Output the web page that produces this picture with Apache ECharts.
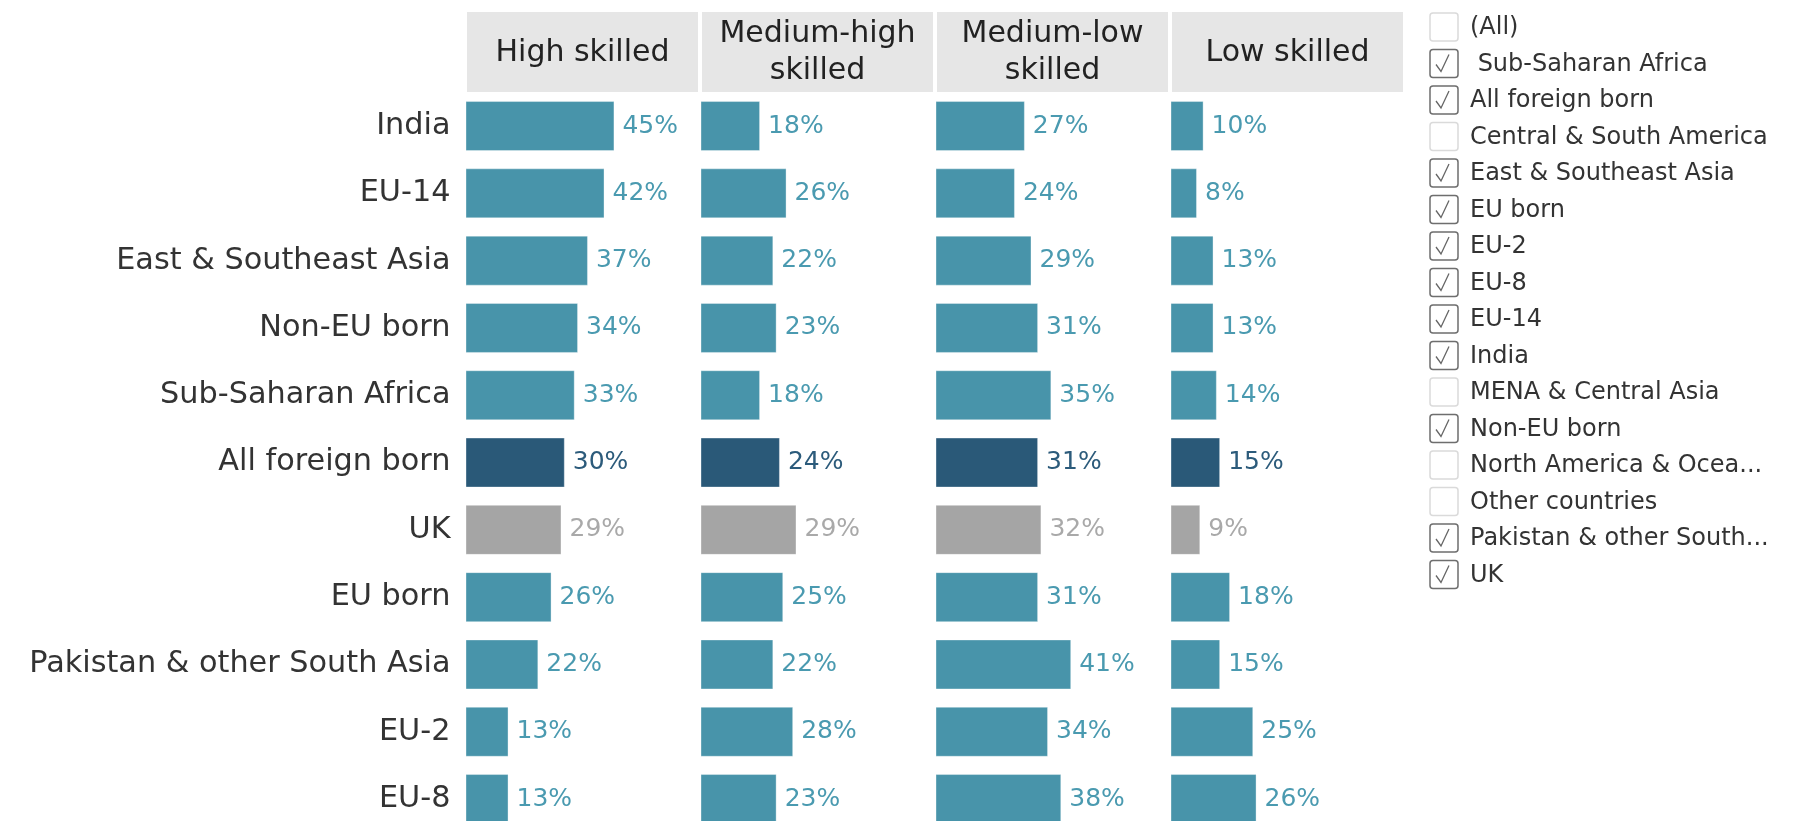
<!DOCTYPE html>
<html>
<head>
<meta charset="utf-8">
<script src="https://cdn.jsdelivr.net/npm/echarts@6/dist/echarts.min.js"></script>
<style>
  html, body { margin: 0; padding: 0; background: #ffffff; }
  #chart { width: 1797px; height: 821px; }
</style>
</head>
<body>
<div id="chart"></div>
<script>
// Share of workers by skill level of occupation, by country of birth
const categories = ['India', 'EU-14', 'East & Southeast Asia', 'Non-EU born', 'Sub-Saharan Africa',
  'All foreign born', 'UK', 'EU born', 'Pakistan & other South Asia', 'EU-2', 'EU-8'];
const panelTitles = ['High skilled', 'Medium-high\nskilled', 'Medium-low\nskilled', 'Low skilled'];
const highSkilled = [45, 42, 37, 34, 33, 30, 29, 26, 22, 13, 13];
const mediumHighSkilled = [18, 26, 22, 23, 18, 24, 29, 25, 22, 28, 23];
const mediumLowSkilled = [27, 24, 29, 31, 35, 31, 32, 31, 41, 34, 38];
const lowSkilled = [10, 8, 13, 13, 14, 15, 9, 18, 15, 25, 26];
const panelValues = [highSkilled, mediumHighSkilled, mediumLowSkilled, lowSkilled];

// Country-of-birth filter list
const filterItems = ['(All)', ' Sub-Saharan Africa', 'All foreign born', 'Central & South America',
  'East & Southeast Asia', 'EU born', 'EU-2', 'EU-8', 'EU-14', 'India', 'MENA & Central Asia',
  'Non-EU born', 'North America & Ocea...', 'Other countries', 'Pakistan & other South...', 'UK'];
const filterChecked = [false, true, true, false, true, true, true, true, true, true, false,
  true, false, false, true, true];

const FONT = 'DejaVu Sans';
const TEAL = '#4894aa', TEAL_TEXT = '#4a9ab0';
const DARK = '#2a5978', DARK_TEXT = '#2c5b7b';
const GREY = '#a5a5a5', GREY_TEXT = '#a9a9a9';

// Layout
const PANEL_LEFT = 465.5, PANEL_STEP = 235, PANEL_WIDTH = 235;
const ROW_STEP = 67.3, GRID_TOP = 92.4;
const AXIS_MAX = 71;

function colorsFor(name) {
  if (name === 'All foreign born') return [DARK, DARK_TEXT];
  if (name === 'UK') return [GREY, GREY_TEXT];
  return [TEAL, TEAL_TEXT];
}

const grids = [], xAxes = [], yAxes = [], series = [], graphics = [];

panelValues.forEach((vals, p) => {
  const left = PANEL_LEFT + p * PANEL_STEP;
  grids.push({
    left: left, top: GRID_TOP, width: PANEL_WIDTH, height: ROW_STEP * categories.length,
    containLabel: false, outerBoundsMode: 'none'
  });
  xAxes.push({ gridIndex: p, type: 'value', min: 0, max: AXIS_MAX, show: false });
  yAxes.push({
    gridIndex: p, type: 'category', data: categories, inverse: true,
    axisLine: { show: false }, axisTick: { show: false }, splitLine: { show: false },
    axisLabel: {
      show: p === 0, fontFamily: FONT, fontSize: 30.3, color: '#333333', margin: 15,
      padding: [4, 0, 0, 0]
    }
  });
  series.push({
    type: 'bar', xAxisIndex: p, yAxisIndex: p, barWidth: 50, animation: false,
    data: vals.map((v, i) => {
      const [fill, text] = colorsFor(categories[i]);
      return {
        value: v,
        itemStyle: { color: fill, borderColor: 'rgba(255,255,255,0.35)', borderWidth: 1 },
        label: { color: text }
      };
    }),
    label: {
      show: true, position: 'right', distance: 8, formatter: '{c}%',
      fontFamily: FONT, fontSize: 25, padding: [4, 0, 0, 0]
    }
  });

  // Column header
  graphics.push({
    type: 'rect', left: left + 1.5, top: 12,
    shape: { width: 231, height: 80 },
    style: { fill: '#e6e6e6' }, silent: true
  });
  graphics.push({
    type: 'text', x: left + 1.5 + 115.5, y: 53,
    style: {
      text: panelTitles[p], fontFamily: FONT, fontSize: 30, fill: '#222222',
      align: 'center', verticalAlign: 'middle', lineHeight: 37
    }, silent: true
  });
});

// Filter checklist on the right
const BOX_X = 1430, BOX_SIZE = 28, FIRST_ROW_Y = 27, FILTER_STEP = 36.5;
filterItems.forEach((label, i) => {
  const cy = FIRST_ROW_Y + i * FILTER_STEP;
  const on = filterChecked[i];
  graphics.push({
    type: 'rect', x: BOX_X, y: cy - BOX_SIZE / 2,
    shape: { width: BOX_SIZE, height: BOX_SIZE, r: 3 },
    style: { fill: '#ffffff', stroke: on ? '#6e6e6e' : '#dadada', lineWidth: 1.5 },
    silent: true
  });
  if (on) {
    graphics.push({
      type: 'polyline', x: BOX_X, y: cy - BOX_SIZE / 2,
      shape: { points: [[6, 15], [11, 22], [19, 5]] },
      style: { stroke: '#666666', lineWidth: 1.3, fill: null },
      silent: true
    });
  }
  graphics.push({
    type: 'text', x: 1470, y: cy + 1,
    style: {
      text: label, fontFamily: FONT, fontSize: 24, fill: '#333333',
      align: 'left', verticalAlign: 'middle'
    }, silent: true
  });
});

const chart = echarts.init(document.getElementById('chart'), null, { renderer: 'canvas' });
chart.setOption({
  backgroundColor: '#ffffff',
  animation: false,
  grid: grids,
  xAxis: xAxes,
  yAxis: yAxes,
  series: series,
  graphic: graphics
});
</script>
</body>
</html>
